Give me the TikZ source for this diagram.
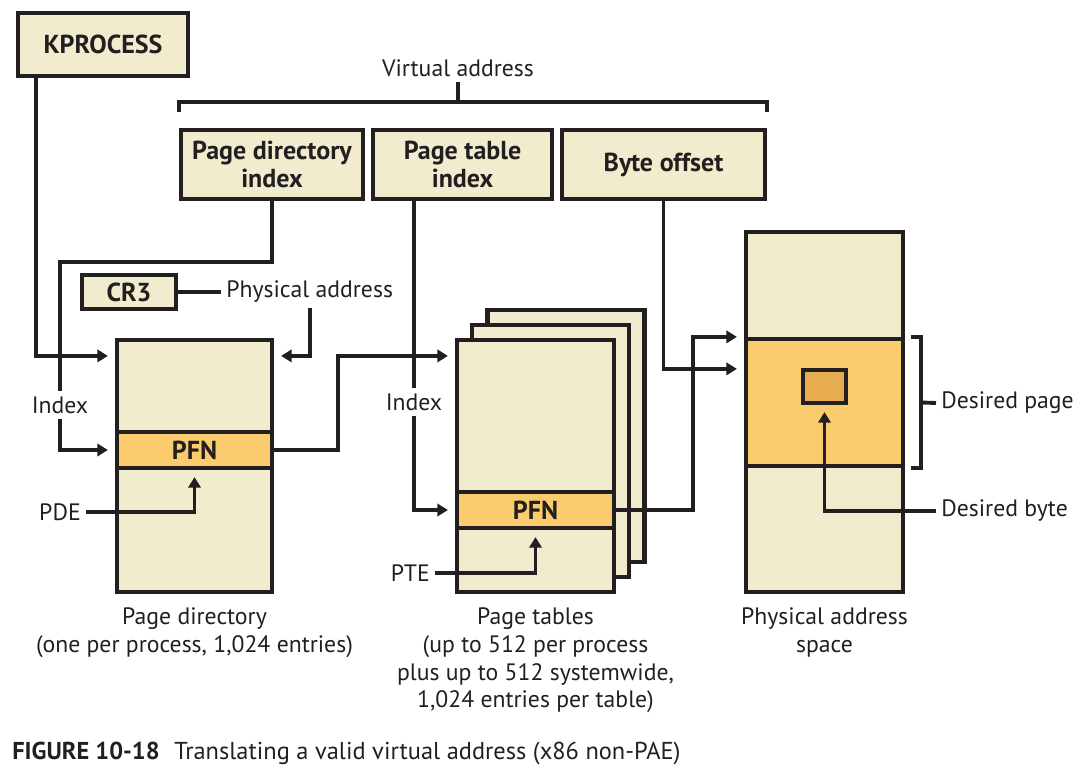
\documentclass[tikz,border=0pt]{standalone}
\usepackage{fontspec}
\setmainfont{PT Sans}
\usepackage{tikz}
\usetikzlibrary{arrows.meta}
\usetikzlibrary{positioning}
\definecolor{ink}{HTML}{231F20}
\definecolor{cream}{HTML}{F2ECCE}
\definecolor{pfn}{HTML}{FBCC6E}
\definecolor{hot}{HTML}{E8AC50}
\tikzstyle{box}=[draw=ink,line width=2.4pt,fill=cream,text=ink,align=center,inner sep=0pt,
                font=\fontsize{14.8}{16.4}\selectfont\bfseries]
\tikzstyle{entry}=[box,fill=pfn]
\tikzstyle{lbl}=[text=ink,inner sep=3pt,outer sep=0pt,align=center,
                font=\fontsize{13.5}{15.9}\selectfont]
\tikzstyle{wire}=[draw=ink,line width=2.2pt]
\tikzstyle{hop}=[wire,-{Triangle[length=6pt,width=7pt]},shorten >=0.14cm]

\begin{document}
\begin{tikzpicture}[x=0.02cm,y=-0.02cm]
\useasboundingbox (0,0) rectangle (1092,776);
% virtual address fields
\node[box,minimum width=3.4cm,minimum height=1.26cm] (kproc) at (103,44.5) {KPROCESS};
\node[lbl] (va) at (458,68) {Virtual address};
\node[box,minimum width=3.64cm,minimum height=1.38cm] (pdi) at (272,164.5) {Page directory\\index};
\node[box,minimum width=3.58cm,minimum height=1.38cm] (pti) at (462.5,164.5) {Page table\\index};
\node[box,minimum width=4.06cm,minimum height=1.38cm] (boff) at (663.5,164.5) {Byte offset};
\node[box,minimum width=1.88cm,minimum height=0.68cm] (cr3) at (129,292) {CR3};
\node[lbl,anchor=west] (phys) at (221,292) {Physical address};
% page directory
\node[box,minimum width=3.1cm,minimum height=5.04cm] (pd) at (194.5,466) {};
\node[entry,minimum width=3.1cm,minimum height=0.72cm] (pdpfn) at (194.5,450) {PFN};
\node[lbl] (idxa) at (60,405) {Index};
\node[lbl,anchor=east] (pde) at (86,512) {PDE};
\node[lbl,below=0.16cm of pd] (pdcap) {Page directory\\(one per process, 1,024 entries)};
% page tables
\node[box,minimum width=3.14cm,minimum height=5.04cm] (ptb) at (566,436) {};
\node[box,minimum width=3.14cm,minimum height=5.04cm] (ptm) at (550.5,451) {};
\node[box,minimum width=3.14cm,minimum height=5.04cm] (ptf) at (535.5,466) {};
\node[entry,minimum width=3.14cm,minimum height=0.72cm] (ptpfn) at (535.5,510) {PFN};
\node[lbl] (idxb) at (414,402) {Index};
\node[lbl,anchor=east] (pte) at (435,573) {PTE};
\node[lbl,below=0.16cm of ptf] (ptcap) {Page tables\\(up to 512 per process\\plus up to 512 systemwide,\\1,024 entries per table)};
% physical memory
\node[box,minimum width=3.14cm,minimum height=7.2cm] (pas) at (824.5,412) {};
\node[entry,minimum width=3.14cm,minimum height=2.54cm] (page) at (824.5,402.5) {};
\node[box,fill=hot,minimum width=0.86cm,minimum height=0.66cm] (byte) at (824.5,386.5) {};
\node[lbl,anchor=west] (dpage) at (936,403) {Desired page};
\node[lbl,anchor=west] (dbyte) at (936,511) {Desired byte};
\node[lbl,below=0.16cm of pas] (pascap) {Physical address\\space};
\node[lbl,anchor=west,font=\fontsize{13.9}{16}\selectfont] (fig) at (7,753)
  {\textbf{FIGURE 10-18}\hspace{0.6em}Translating a valid virtual address (x86 non-PAE)};
% connectors
\coordinate (vabar) at ([yshift=0.52cm]pdi.north west);
\draw[wire] ([yshift=0.32cm]pdi.north west) -- (vabar) -- ([yshift=0.52cm]boff.north east)
  -- ([yshift=0.32cm]boff.north east);
\draw[wire] (va.south) -- (va.south |- vabar);
\draw[hop] ([xshift=0.4cm]kproc.south west) |- ([yshift=-0.36cm]pd.north west);
\draw[wire] (pdi.south) -- ++(0,61) -| (idxa.north);
\draw[hop] (idxa.south) |- (pdpfn.west);
\draw[wire] (cr3.east) -- (phys.west);
\draw[hop] (phys.south) |- ([yshift=-0.36cm]pd.north east);
\draw[hop] (pde.east) -| (pdpfn.south);
\draw[hop] (pdpfn.east) -- ++(64,0) |- ([yshift=-0.36cm]ptf.north west);
\draw[wire] (idxb.north |- pti.south) -- (idxb.north);
\draw[hop] (idxb.south) |- (ptpfn.west);
\draw[hop] (pte.east) -| (ptpfn.south);
\draw[hop] (boff.south) |- ([yshift=-0.64cm]page.north west);
\draw[hop] (ptpfn.east) -- ++(77,0) |- (page.north west);
\draw[hop] (dbyte.west) -| (byte.south);
\draw[wire] ([xshift=0.12cm]page.north east) -| ([xshift=0.32cm]page.east)
  |- ([xshift=0.12cm]page.south east);
\draw[wire] ([xshift=0.32cm]page.east) -- (dpage.west);
\end{tikzpicture}
\end{document}
